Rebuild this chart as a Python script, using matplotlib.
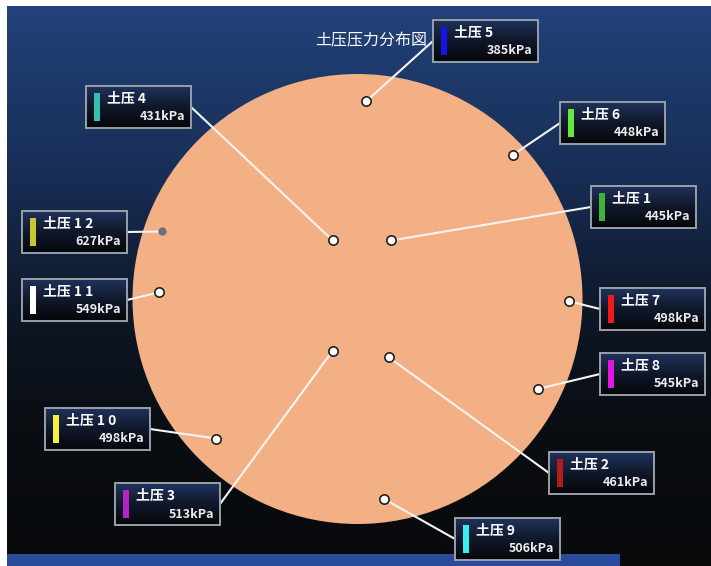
import numpy as np
import matplotlib.pyplot as plt
from matplotlib.patches import Circle, Rectangle

plt.rcParams['font.family'] = ['Noto Sans CJK SC', 'DejaVu Sans']

# sensor data, positions in units of the shield radius (centre = 0,0)
names = ['土压 5', '土压 6', '土压 1', '土压 7', '土压 8', '土压 2',
         '土压 9', '土压 3', '土压 1 0', '土压 1 1', '土压 1 2', '土压 4']
pressure = [385, 448, 445, 498, 545, 461, 506, 513, 498, 549, 627, 431]
sensor_x = [0.04, 0.69, 0.15, 0.94, 0.80, 0.14, 0.12, -0.11, -0.63, -0.88, -0.87, -0.11]
sensor_y = [0.88, 0.64, 0.26, -0.01, -0.40, -0.26, -0.89, -0.23, -0.62, 0.03, 0.30, 0.26]
bar_colors = ['#1414e6', '#66e83a', '#3cb43c', '#f01818', '#e414e4', '#b41c1c',
              '#34f0f0', '#b424c4', '#f4f040', '#ffffff', '#c8c832', '#34c0b0']
active = [True] * 10 + [False, True]   # sensor 12 drawn as grey dot
title = '土压压力分布図'

# label box layout (pixel left/top)
box_left = [433, 560, 591, 600, 600, 549, 455, 115, 45, 22, 22, 86]
box_top = [20, 102, 186, 288, 353, 452, 518, 483, 408, 279, 211, 86]
BW, BH = 105, 42

CX, CY, R = 357.5, 299, 225.0


def px(x, y):
    return (x - CX) / R, (CY - y) / R


fig = plt.figure(figsize=(7.11, 5.66), dpi=100, facecolor='white')
ax = fig.add_axes([0, 0, 1, 1])
ax.set_xlim(px(0, 0)[0], px(711, 0)[0])
ax.set_ylim(px(0, 566)[1], px(0, 0)[1])
ax.set_aspect('equal')
ax.axis('off')

# screen background, blue at top fading to black
t = np.linspace(0, 1, 300)
stops = [0, 0.3, 0.55, 0.75, 1]
cols = np.array([[0x22, 0x42, 0x7a], [0x18, 0x2e, 0x56], [0x0e, 0x17, 0x26],
                 [0x0a, 0x0d, 0x12], [0x08, 0x0a, 0x0c]]) / 255
grad = np.stack([np.interp(t, stops, cols[:, c]) for c in range(3)], axis=-1)
grad = np.repeat(grad[:, None, :], 2, axis=1)
x0, y0 = px(7, 6)
x1, y1 = px(711, 566)
ax.imshow(grad, extent=[x0, x1, y1, y0], aspect='auto', zorder=0, interpolation='bilinear')
sx0, sy0 = px(7, 566)
sx1, sy1 = px(620, 554)
ax.add_patch(Rectangle((sx0, sy0), sx1 - sx0, sy1 - sy0, color='#2a4a9c', lw=0, zorder=0.5))

ax.add_patch(Circle((0, 0), 1.0, color='#f2b084', lw=0, zorder=1))

tx, ty = px(427, 41)
ax.text(tx, ty, title, color='white', fontsize=11.5, ha='right', va='center', zorder=5)

box_grad = np.stack([np.interp(np.linspace(0, 1, 50), [0, 0.5, 1],
                               np.array([[0x20, 0x32, 0x5c], [0x10, 0x18, 0x2a], [0x05, 0x07, 0x0a]])[:, c] / 255)
                     for c in range(3)], axis=-1)
box_grad = np.repeat(box_grad[:, None, :], 2, axis=1)

for i, name in enumerate(names):
    l, tp = box_left[i], box_top[i]
    bx0, by0 = px(l, tp + BH)
    bx1, by1 = px(l + BW, tp)
    # leader line from sensor to box edge
    if l + BW / 2 > CX + sensor_x[i] * R:
        ex, ey = px(l, tp + BH / 2)
    else:
        ex, ey = px(l + BW, tp + BH / 2)
    ax.plot([sensor_x[i], ex], [sensor_y[i], ey], color='#f4f4f4', lw=1.5, zorder=3)
    if active[i]:
        ax.scatter(sensor_x[i], sensor_y[i], s=45, c='white', edgecolors='#202020',
                   linewidths=1.2, zorder=4)
    else:
        ax.scatter(sensor_x[i], sensor_y[i], s=35, c='#6a7078', linewidths=0, zorder=4)
    rect = Rectangle((bx0, by0), bx1 - bx0, by1 - by0, fc='none', ec='#98a0a8', lw=1.4, zorder=6)
    im = ax.imshow(box_grad, extent=[bx0, bx1, by0, by1], aspect='auto', zorder=5,
                   interpolation='bilinear')
    ax.add_patch(rect)
    im.set_clip_path(rect)
    cx0, cy0 = px(l + 8, tp + BH - 7)
    cx1, cy1 = px(l + 14, tp + 7)
    ax.add_patch(Rectangle((cx0, cy0), cx1 - cx0, cy1 - cy0, color=bar_colors[i], lw=0, zorder=7))
    nx, ny = px(l + 21, tp + 13)
    ax.text(nx, ny, name, color='white', fontsize=10, fontweight='bold', ha='left', va='center', zorder=7)
    vx, vy = px(l + BW - 6, tp + BH - 11)
    ax.text(vx, vy, f'{pressure[i]}kPa', color='#ececec', fontsize=9, fontweight='bold',
            ha='right', va='center', zorder=7)

fig.savefig('out.png', dpi=100, facecolor='white')
